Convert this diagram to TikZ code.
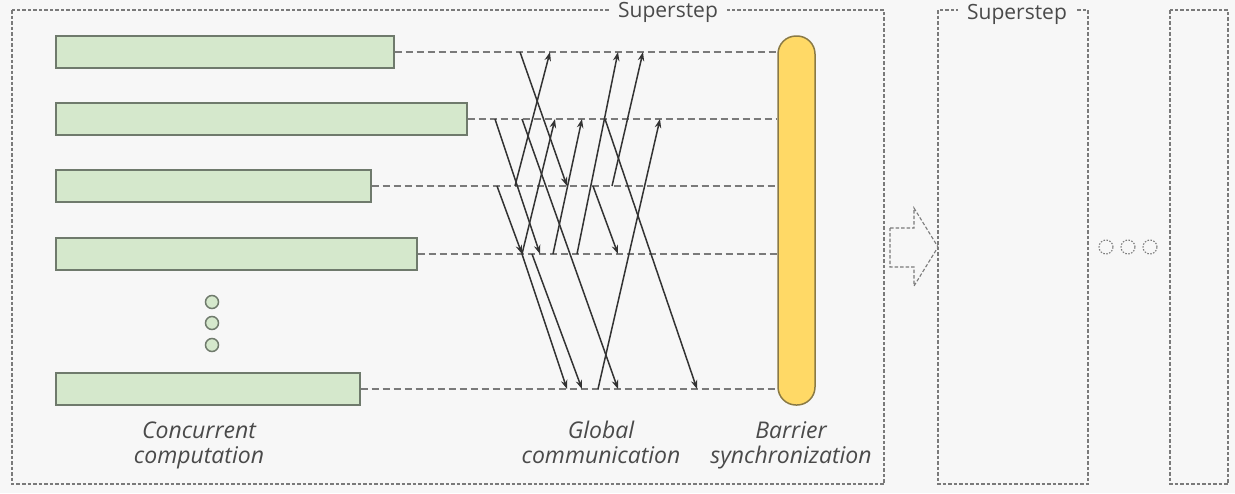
\documentclass[tikz,border=0pt]{standalone}
\usepackage{fontspec}
\setmainfont{Open Sans}
\usetikzlibrary{arrows.meta, calc, positioning}
\definecolor{bspbg}{HTML}{F7F7F7}
\definecolor{bspgreen}{HTML}{D5E8CC}
\definecolor{bspedge}{HTML}{6F7A6C}
\definecolor{bspyellow}{HTML}{FFD966}
\definecolor{bspbarrier}{HTML}{8A7A45}
\definecolor{bspgray}{HTML}{7A7A7A}
\definecolor{bspdark}{HTML}{333333}
\definecolor{bsptext}{HTML}{4A4A4A}

\begin{document}
\begin{tikzpicture}[x=1pt, y=-1pt, >={Stealth[length=9pt,width=6.5pt]},
  proc/.style={draw=bspedge, fill=bspgreen, line width=1.5pt, minimum height=32pt, inner sep=0pt, anchor=west},
  rowline/.style={draw=bspgray, line width=1.4pt, dash pattern=on 7pt off 4pt},
  msg/.style={->, draw=bspdark, line width=1.5pt},
  stepbox/.style={draw=bspgray, line width=1.1pt, dash pattern=on 3.5pt off 2pt},
  lbl/.style={font=\fontsize{23}{25}\selectfont\itshape, text=bsptext, align=center},
  steplbl/.style={font=\fontsize{21}{24}\selectfont, text=bsptext, fill=bspbg, inner xsep=9pt, anchor=base}]
  \fill[bspbg] (0,0) rectangle (1235,493);
  \useasboundingbox (0,0) rectangle (1235,493);

  % supersteps
  \draw[stepbox] (12,10) rectangle (884,484);
  \node[steplbl] (step1) at (668,17) {Superstep};
  \draw[stepbox] (938,10) rectangle (1088,484);
  \node[steplbl] (step2) at (1017,19) {Superstep};
  \draw[stepbox] (1170,10) rectangle (1228,484);
  \draw[stepbox] (890,228) -- (914,228) -- (914,208) -- (938,247) -- (914,286) -- (914,267) -- (890,267) -- cycle;
  \foreach \x in {1106,1128,1150}{\draw[stepbox, dash pattern=on 1.5pt off 1.5pt] (\x,247) circle (7pt);}

  % processors
  \node[proc, minimum width=338pt] (bar1) at (55,52) {};
  \node[proc, minimum width=411pt] (bar2) at (55,119) {};
  \node[proc, minimum width=315pt] (bar3) at (55,186) {};
  \node[proc, minimum width=361pt] (bar4) at (55,254) {};
  \node[proc, minimum width=304pt] (bar5) at (55,389) {};
  \foreach \y in {302,323,345}{\draw[bspedge, fill=bspgreen, line width=1.5pt] (212,\y) circle (6.5pt);}

  % barrier
  \node[draw=bspbarrier, fill=bspyellow, line width=1.5pt, minimum width=37pt, minimum height=369pt,
        rounded corners=18pt, inner sep=0pt] (barrier) at (796.5,220.5) {};
  \foreach \i in {1,...,5}{\draw[rowline] (bar\i.east) -- (bar\i.east -| barrier.west);}

  % messages
  \foreach \fr/\fx/\tr/\tx in {1/520/3/567, 3/515/1/550, 3/612/1/643, 4/577/1/618,
      2/495/4/540, 4/522/2/555, 4/553/2/582, 5/598/2/660, 2/605/5/697, 2/522/5/618,
      3/593/4/618, 3/497/4/522, 4/522/5/567, 4/532/5/582}
    {\draw[msg] (\fx,0 |- bar\fr.east) -- (\tx,0 |- bar\tr.east);}

  \node[lbl] (comp) at (199,446) {Concurrent\strut\\computation\strut};
  \node[lbl] (comm) at (601,446) {Global\strut\\communication\strut};
  \node[lbl] (sync) at (791,446) {Barrier\strut\\synchronization\strut};
\end{tikzpicture}
\end{document}
